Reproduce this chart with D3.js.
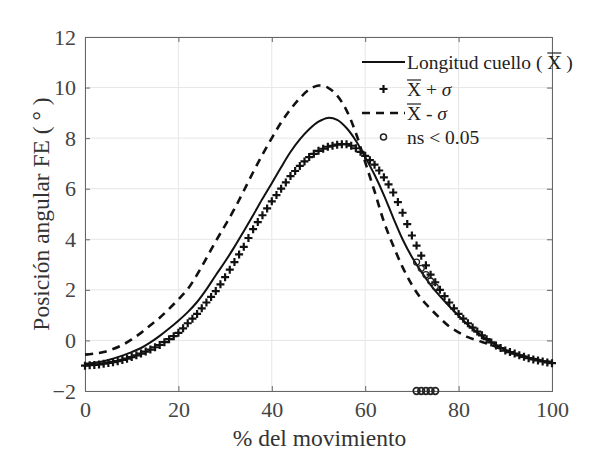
<!DOCTYPE html>
<html>
<head>
<meta charset="utf-8">
<script src="https://cdn.jsdelivr.net/npm/d3@7"></script>
<style>
  body { margin: 0; background: #fff; }
  text { font-family: "Liberation Serif", "DejaVu Serif", serif; }
</style>
</head>
<body>
<div id="chart"></div>
<script>
// x positions (% del movimiento) for the lines, every 2 %
let lineX = d3.range(0, 101, 2);

// Longitud cuello (mean), every 2 %
let meanVals = [-0.92, -0.88, -0.82, -0.72, -0.6, -0.46, -0.3, -0.08, 0.18, 0.47, 0.78,
  1.12, 1.52, 2.02, 2.58, 3.12, 3.7, 4.32, 4.95, 5.6, 6.22,
  6.85, 7.45, 7.95, 8.35, 8.65, 8.8, 8.72, 8.4, 7.9, 7.25,
  6.55, 5.75, 4.85, 4.0, 3.3, 2.72, 2.2, 1.75, 1.35, 0.98,
  0.62, 0.32, 0.05, -0.18, -0.38, -0.52, -0.64, -0.74, -0.81, -0.86];

// X - sigma (dashed), every 2 %
let minusVals = [-0.56, -0.52, -0.46, -0.34, -0.18, 0.04, 0.3, 0.6, 0.9, 1.25, 1.62,
  2.03, 2.6, 3.25, 3.92, 4.55, 5.2, 5.92, 6.65, 7.35, 8.0,
  8.62, 9.14, 9.58, 9.92, 10.08, 10.0, 9.68, 9.1, 8.2, 7.05,
  5.9, 4.7, 3.75, 2.9, 2.2, 1.65, 1.25, 0.88, 0.55, 0.32,
  0.13, 0.0, -0.12, -0.25, -0.4, -0.52, -0.63, -0.72, -0.8, -0.85];

// X + sigma (markers), every 1 %
let plusX = d3.range(0, 101, 1);
let plusVals = [-1.0, -0.98, -0.97, -0.95, -0.92, -0.89, -0.86, -0.82, -0.77, -0.72,
  -0.66, -0.59, -0.52, -0.44, -0.36, -0.27, -0.18, -0.07, 0.05, 0.17,
  0.3, 0.48, 0.68, 0.86, 1.05, 1.27, 1.5, 1.72, 1.95, 2.22,
  2.5, 2.8, 3.1, 3.4, 3.7, 4.05, 4.4, 4.68, 4.95, 5.22,
  5.5, 5.75, 6.0, 6.25, 6.5, 6.7, 6.9, 7.08, 7.25, 7.38,
  7.5, 7.58, 7.66, 7.7, 7.74, 7.76, 7.76, 7.7, 7.6, 7.46,
  7.3, 7.13, 6.95, 6.72, 6.45, 6.17, 5.85, 5.47, 5.05, 4.6,
  4.15, 3.75, 3.35, 2.97, 2.6, 2.3, 2.0, 1.75, 1.5, 1.27,
  1.05, 0.86, 0.68, 0.51, 0.35, 0.2, 0.05, -0.08, -0.2, -0.3,
  -0.4, -0.46, -0.52, -0.59, -0.65, -0.7, -0.75, -0.79, -0.83, -0.87, -0.9];

// ns < 0.05 points
let nsX = [71, 72, 73, 74, 75];
let nsCurve = [3.1, 2.85, 2.6, 2.35, 2.12];
let nsBase = -2;

let xTicks = [0, 20, 40, 60, 80, 100];
let yTicks = [-2, 0, 2, 4, 6, 8, 10, 12];

let W = 598, H = 454;
let margin = { top: 37, right: 46, bottom: 63, left: 85 },
    width = W - margin.left - margin.right,
    height = H - margin.top - margin.bottom;

let svg = d3.select("#chart").append("svg")
    .attr("width", W).attr("height", H);

let g = svg.append("g")
    .attr("transform", "translate(" + margin.left + "," + margin.top + ")");

let x = d3.scaleLinear().domain([0, 100]).range([0, width]);
let y = d3.scaleLinear().domain([-2, 12]).range([height, 0]);

// grid
g.selectAll(".vgrid").data(xTicks).enter().append("line")
    .attr("x1", d => x(d)).attr("x2", d => x(d))
    .attr("y1", 0).attr("y2", height)
    .attr("stroke", "#e6e6e6").attr("stroke-width", 1);
g.selectAll(".hgrid").data(yTicks).enter().append("line")
    .attr("x1", 0).attr("x2", width)
    .attr("y1", d => y(d)).attr("y2", d => y(d))
    .attr("stroke", "#e6e6e6").attr("stroke-width", 1);

// axes (ticks inside like matlab)
let axColor = "#666";
let xAxis = g.append("g").attr("transform", "translate(0," + height + ")")
    .call(d3.axisBottom(x).tickValues(xTicks).tickSize(-5).tickPadding(10));
let yAxis = g.append("g")
    .call(d3.axisLeft(y).tickValues(yTicks).tickSize(-5).tickPadding(9));
g.append("g").call(d3.axisTop(x).tickValues(xTicks).tickSize(-5).tickFormat(""));
g.append("g").attr("transform", "translate(" + width + ",0)")
    .call(d3.axisRight(y).tickValues(yTicks).tickSize(-5).tickFormat(""));

g.selectAll(".domain").attr("stroke", axColor);
g.selectAll(".tick line").attr("stroke", axColor);
g.selectAll(".tick text")
    .style("font-family", "'Liberation Serif', serif")
    .style("font-size", "22px")
    .attr("fill", "#444");

let meanData = lineX.map((d, i) => ({ x: d, y: meanVals[i] }));
let minusData = lineX.map((d, i) => ({ x: d, y: minusVals[i] }));
let plusData = plusX.map((d, i) => ({ x: d, y: plusVals[i] }));

let line = d3.line()
    .x(d => x(d.x)).y(d => y(d.y))
    .curve(d3.curveCatmullRom);

// X - sigma
g.append("path").datum(minusData)
    .attr("d", line).attr("fill", "none")
    .attr("stroke", "#111").attr("stroke-width", 2.6)
    .attr("stroke-dasharray", "8,6");

// mean
g.append("path").datum(meanData)
    .attr("d", line).attr("fill", "none")
    .attr("stroke", "#111").attr("stroke-width", 2);

function plusPath(s) {
    return "M" + (-s) + ",0H" + s + "M0," + (-s) + "V" + s;
}

// X + sigma markers
g.selectAll(".pm").data(plusData).enter().append("path")
    .attr("transform", d => "translate(" + x(d.x) + "," + y(d.y) + ")")
    .attr("d", plusPath(4))
    .attr("stroke", "#111").attr("stroke-width", 2.2).attr("fill", "none");

// ns circles
g.selectAll(".nsc").data(nsX).enter().append("circle")
    .attr("cx", d => x(d)).attr("cy", (d, i) => y(nsCurve[i]))
    .attr("r", 3).attr("fill", "none").attr("stroke", "#222").attr("stroke-width", 1.3);
g.selectAll(".nsb").data(nsX).enter().append("circle")
    .attr("cx", d => x(d)).attr("cy", y(nsBase))
    .attr("r", 3.3).attr("fill", "none").attr("stroke", "#222").attr("stroke-width", 1.7);

// axis titles
svg.append("text")
    .attr("transform", "translate(49," + (margin.top + height / 2) + ")rotate(-90)")
    .attr("text-anchor", "middle")
    .style("font-size", "23.5px").attr("fill", "#333")
    .text("Posición angular FE ( ° )");
svg.append("text")
    .attr("x", margin.left + width / 2 + 1).attr("y", 446)
    .attr("text-anchor", "middle")
    .style("font-size", "23.5px").attr("fill", "#333")
    .text("% del movimiento");

// legend
let leg = svg.append("g");
let rows = [62, 89, 113, 137];
let lx0 = 362, lx1 = 405, tx = 407;

leg.append("line").attr("x1", lx0).attr("x2", lx1).attr("y1", rows[0]).attr("y2", rows[0])
    .attr("stroke", "#111").attr("stroke-width", 2);
leg.append("path").attr("transform", "translate(" + ((lx0 + lx1) / 2) + "," + rows[1] + ")")
    .attr("d", plusPath(4)).attr("stroke", "#111").attr("stroke-width", 2.2);
leg.append("line").attr("x1", lx0).attr("x2", lx1).attr("y1", rows[2]).attr("y2", rows[2])
    .attr("stroke", "#111").attr("stroke-width", 2.6).attr("stroke-dasharray", "8,6");
leg.append("circle").attr("cx", (lx0 + lx1) / 2).attr("cy", rows[3]).attr("r", 3)
    .attr("fill", "none").attr("stroke", "#222").attr("stroke-width", 1.5);

function legText(row, parts) {
    let t = leg.append("text").attr("x", tx).attr("y", row + 7)
        .style("font-size", "19.5px").attr("fill", "#222");
    parts.forEach(p => {
        let s = t.append("tspan").text(p.t);
        if (p.it) s.style("font-style", "italic");
    });
    // overline over the X
    let node = t.node();
    let idx = 0;
    parts.forEach(p => {
        if (p.over) {
            let start = node.getStartPositionOfChar(idx);
            let len = node.getSubStringLength(idx, p.t.length);
            leg.append("line")
                .attr("x1", start.x).attr("x2", start.x + len)
                .attr("y1", row - 9).attr("y2", row - 9)
                .attr("stroke", "#222").attr("stroke-width", 1.2);
        }
        idx += p.t.length;
    });
}

legText(rows[0], [{ t: "Longitud cuello ( " }, { t: "X", over: true }, { t: " )" }]);
legText(rows[1], [{ t: "X", over: true }, { t: " + " }, { t: "σ", it: true }]);
legText(rows[2], [{ t: "X", over: true }, { t: " -  " }, { t: "σ", it: true }]);
legText(rows[3], [{ t: "ns < 0.05" }]);
</script>
</body>
</html>
